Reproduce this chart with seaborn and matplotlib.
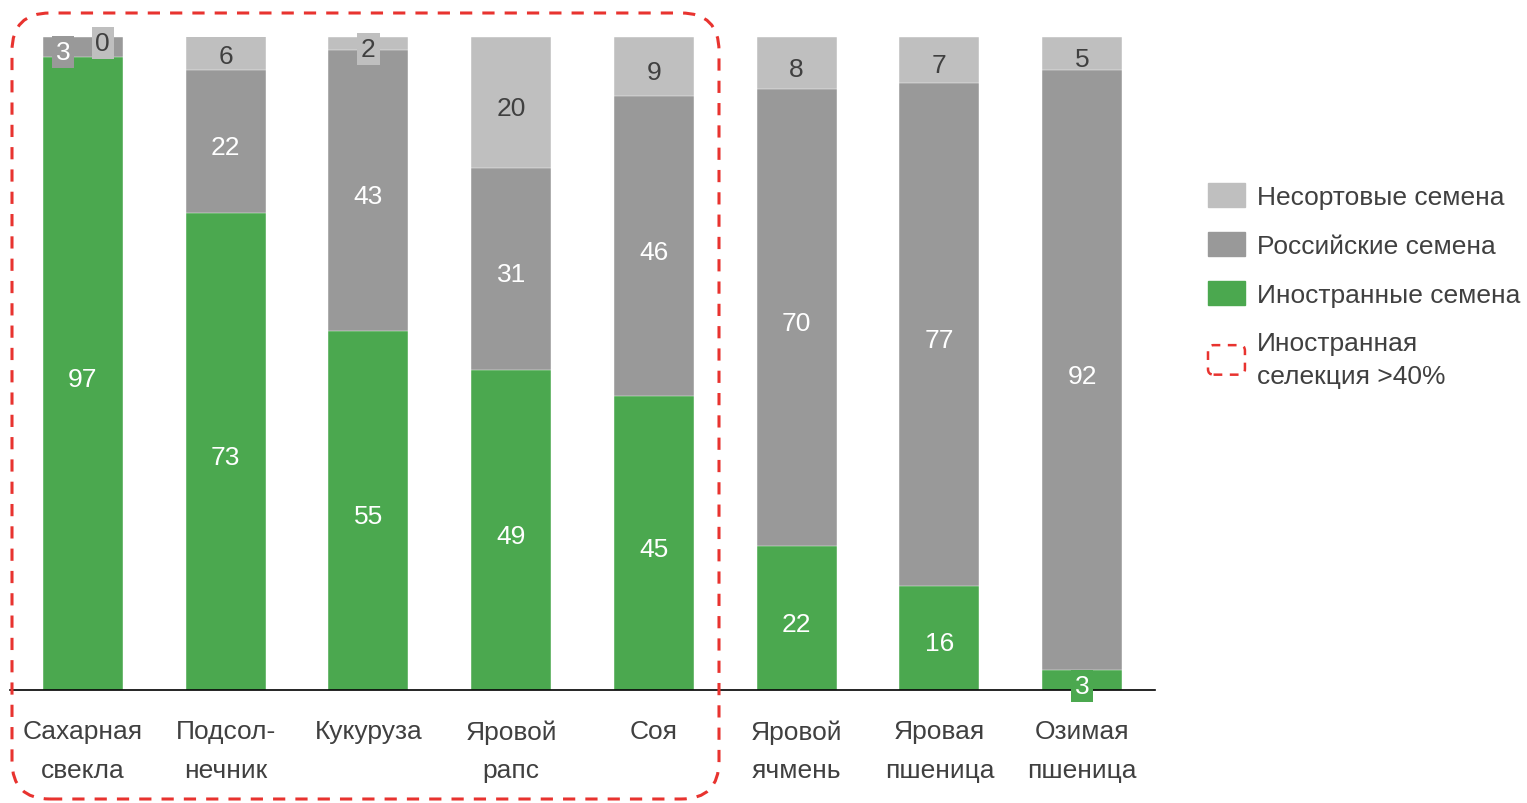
import numpy as np
import matplotlib
matplotlib.use("Agg")
import matplotlib.pyplot as plt
import seaborn as sns
from matplotlib.patches import Patch, FancyBboxPatch
from matplotlib.legend_handler import HandlerPatch
from matplotlib.transforms import IdentityTransform

# данные
crops = ['Сахарная\nсвекла', 'Подсол-\nнечник', 'Кукуруза', 'Яровой\nрапс', 'Соя',
         'Яровой\nячмень', 'Яровая\nпшеница', 'Озимая\nпшеница']
foreign = [97, 73, 55, 49, 45, 22, 16, 3]
russian = [3, 22, 43, 31, 46, 70, 77, 92]
nonvar = [0, 6, 2, 20, 9, 8, 7, 5]

series_names = ['Несортовые семена', 'Российские семена', 'Иностранные семена']
box_label = 'Иностранная\nселекция >40%'

GREEN = '#4BA84F'
DARK = '#999999'
LIGHT = '#BFBFBF'
RED = '#E8332F'
TXT = '#404040'

sns.set_style("white")
plt.rcParams['font.family'] = ['Liberation Sans', 'DejaVu Sans']

fig = plt.figure(figsize=(15.27, 8.04), dpi=100)
ax = fig.add_axes([10 / 1527, 113 / 804, 1145 / 1527, 653 / 804])

f = np.array(foreign)
r = np.array(russian)
n = np.array(nonvar)
lvl1 = f
lvl2 = f + r
lvl3 = f + r + n

# накладываем столбцы: сначала самый высокий
for vals, col in [(lvl3, LIGHT), (lvl2, DARK), (lvl1, GREEN)]:
    sns.barplot(x=crops, y=vals, color=col, width=0.56, saturation=1,
                edgecolor='white', linewidth=0.3, ax=ax)

ax.set_ylim(0, 100)
ax.set_xlim(-0.51, 7.51)
ax.set_yticks([])
ax.set_ylabel('')
for s in ['top', 'left', 'right']:
    ax.spines[s].set_visible(False)
ax.spines['bottom'].set_color('black')
ax.spines['bottom'].set_linewidth(1.2)
ax.tick_params(axis='x', length=0, pad=21, labelsize=19, labelcolor=TXT)
for lab in ax.get_xticklabels():
    lab.set_linespacing(1.77)

# подписи значений
shift = {(0, 1): -0.14, (0, 2): 0.14}
segs = [(f, np.zeros_like(f), 'white', GREEN),
        (r, f, 'white', DARK),
        (n, f + r, TXT, LIGHT)]
for k, (vals, bottoms, tc, fc) in enumerate(segs):
    for i, (v, b) in enumerate(zip(vals, bottoms)):
        x = i + shift.get((i, k), 0)
        y = b + v / 2
        kw = {}
        if v < 4:
            kw['bbox'] = dict(boxstyle='square,pad=0.15', fc=fc, ec='none')
        ax.annotate(str(v), (x, y), xytext=(0, -2.2), textcoords='offset points',
                    ha='center', va='center_baseline', fontsize=19,
                    color=tc, annotation_clip=False, zorder=5, **kw)

# пунктирная рамка вокруг культур с иностранной селекцией >40%
H = 804
frame = FancyBboxPatch((12, H - 800), 707, 786,
                       boxstyle='round,pad=0,rounding_size=38',
                       fc='none', ec=RED, lw=2.2, ls=(0, (4, 3.3)),
                       transform=IdentityTransform(), figure=fig)
fig.patches.append(frame)


def dashed_box(legend, orig_handle, xdescent, ydescent, width, height, fontsize):
    return FancyBboxPatch((-xdescent, -ydescent - 2), width, height + 4,
                          boxstyle='round,pad=0,rounding_size=4')


handles = [Patch(color=LIGHT), Patch(color=DARK), Patch(color=GREEN),
           Patch(fc='none', ec=RED, lw=1.8, ls=(0, (3.5, 3)))]
labels = series_names + [box_label]
leg = fig.legend(handles, labels, loc='upper left',
                 bbox_to_anchor=(1208 / 1527, 1 - 184 / 804),
                 frameon=False, fontsize=19, labelcolor=TXT,
                 handlelength=1.4, handleheight=1.02, handletextpad=0.45,
                 labelspacing=0.88, borderpad=0, borderaxespad=0,
                 handler_map={handles[3]: HandlerPatch(patch_func=dashed_box)})
leg.get_texts()[3].set_linespacing(1.5)

fig.savefig('out.png', dpi=100)
